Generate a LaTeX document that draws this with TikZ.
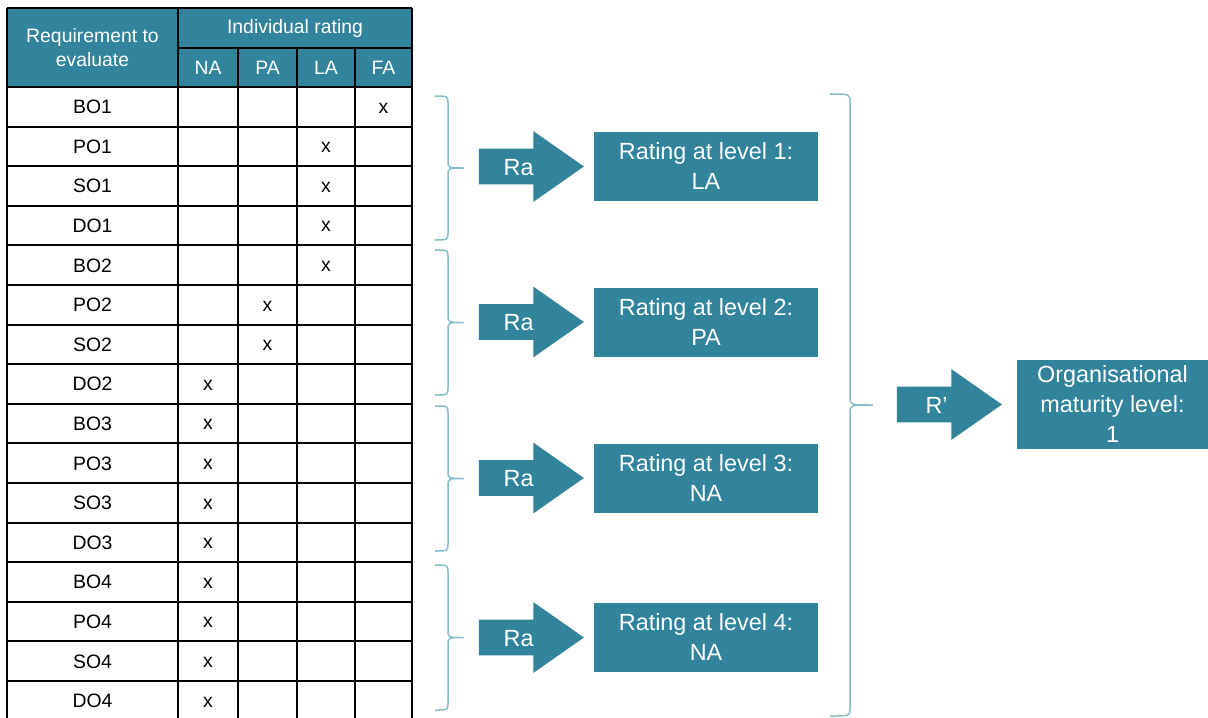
\documentclass[tikz,border=0pt]{standalone}
\usepackage{fontspec}
\setmainfont{Liberation Sans}
\usetikzlibrary{positioning,shapes.arrows}

\definecolor{tealhead}{RGB}{49,132,155}
\definecolor{bracecol}{RGB}{133,188,204}

\tikzset{
  grid line/.style={line width=1pt,black},
  headtext/.style={text=white,font=\fontsize{9.7}{12}\selectfont,align=center,inner sep=0pt},
  cell/.style={font=\fontsize{9.7}{12}\selectfont,inner sep=0pt},
  ratebox/.style={fill=tealhead,text=white,minimum width=112pt,minimum height=34.5pt,
    align=center,inner sep=0pt,font=\fontsize{11.7}{15}\selectfont},
  ratearrow/.style={single arrow,fill=tealhead,text=white,minimum height=52.5pt,
    minimum width=35pt,single arrow head extend=8.75pt,single arrow tip angle=70,
    text height=8.5pt,text depth=0pt,inner xsep=0pt,inner ysep=4.5pt,
    font=\fontsize{11.7}{15}\selectfont},
  bracepen/.style={draw=bracecol,line width=0.75pt},
}

% brace: end x, spine x, top y, bottom y, tip x
\newcommand{\lvlbrace}[5]{%
  \draw[bracepen] (#1,#3) .. controls (#2,#3) .. (#2,{#3+8})
    -- (#2,{(#3+#4)/2-8}) .. controls (#2,{(#3+#4)/2}) .. (#5,{(#3+#4)/2})
    .. controls (#2,{(#3+#4)/2}) .. (#2,{(#3+#4)/2+8})
    -- (#2,{#4-8}) .. controls (#2,#4) .. (#1,#4);}

\begin{document}
\begin{tikzpicture}[x=0.5pt,y=-0.5pt]
  \useasboundingbox (0,0) rectangle (1208,717);

  % Table header
  \fill[tealhead] (7,8) rectangle (412,87);
  \node[headtext] (reqhead) at (92.5,48) {Requirement to\\evaluate};
  \node[headtext] (indhead) at (295,28) {Individual rating};
  \foreach \lab/\cx in {NA/208,PA/267.5,LA/326,FA/383.5}
    \node[headtext] (head\lab) at (\cx,68) {\lab};

  % Table grid
  \draw[grid line] (7,8) -- (412,8);
  \draw[grid line] (178,48) -- (412,48);
  \foreach \k in {0,...,15}
    \draw[grid line] (7,{87+39.6*\k}) -- (412,{87+39.6*\k});
  \foreach \x in {7,178,412}
    \draw[grid line] (\x,8) -- (\x,722);
  \foreach \x in {238,297,355}
    \draw[grid line] (\x,48) -- (\x,722);

  % Requirements and individual ratings
  \foreach \lab [count=\i] in {BO1,PO1,SO1,DO1,BO2,PO2,SO2,DO2,BO3,PO3,SO3,DO3,BO4,PO4,SO4,DO4}
    \node[cell] (req\i) at (92.5,{107+39.6*(\i-1)}) {\lab};
  \foreach \cx [count=\i] in {383.5,326,326,326,326,267.5,267.5,208,208,208,208,208,208,208,208,208}
    \node[cell] (mark\i) at (\cx,{108+39.6*(\i-1)}) {x};

  % Braces
  \lvlbrace{435}{448}{96}{240}{464}
  \lvlbrace{435}{448}{250}{395}{464}
  \lvlbrace{435}{448}{406}{551}{464}
  \lvlbrace{435}{448}{565}{710}{464}
  \lvlbrace{830}{850}{94}{716}{873}

  % Ratings per level
  \node[ratebox] (lvl1) at (706,166.5) {Rating at level 1:\\LA};
  \node[ratebox] (lvl2) at (706,322) {Rating at level 2:\\PA};
  \node[ratebox] (lvl3) at (706,478) {Rating at level 3:\\NA};
  \node[ratebox] (lvl4) at (706,637.5) {Rating at level 4:\\NA};
  \foreach \n in {1,...,4}
    \node[ratearrow,left=4.5pt of lvl\n] (arr\n) {Ra};

  % Organisational level
  \node[ratebox,minimum width=95.5pt,minimum height=44.5pt] (orgmat) at (1112.5,404.5)
    {Organisational\\maturity level:\\1};
  \node[ratearrow,left=7pt of orgmat] (arrorg) {R’};
\end{tikzpicture}
\end{document}
